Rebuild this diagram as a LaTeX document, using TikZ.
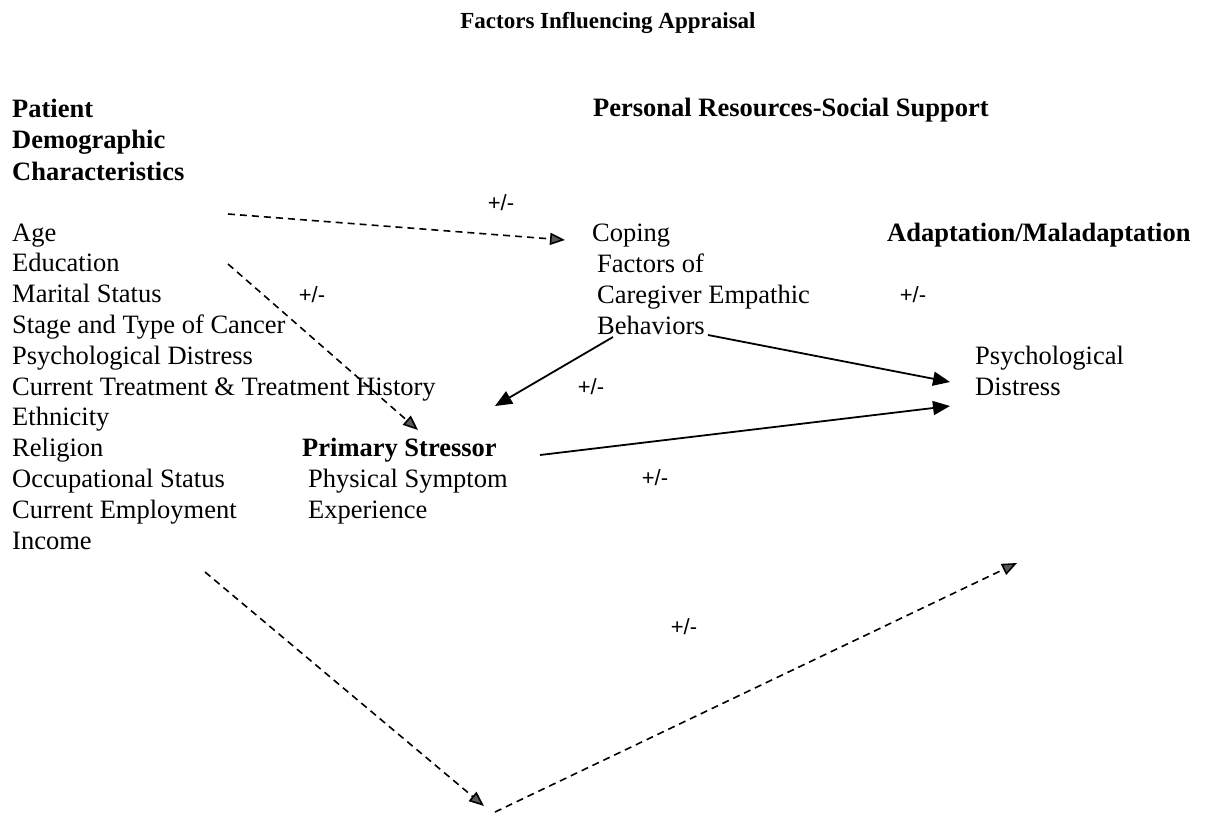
\documentclass[tikz,border=0pt]{standalone}
\usepackage{fontspec}
\setmainfont{Liberation Serif}
\newfontfamily\signfont{Liberation Sans}
\usetikzlibrary{arrows.meta}
\tikzset{
  txt/.style={inner sep=0pt, anchor=base west, align=left, font=\fontsize{26.5}{30.8}\selectfont},
  hd/.style={txt, font=\fontsize{26.5}{31.5}\selectfont\bfseries},
  ttl/.style={inner sep=0pt, anchor=base, font=\fontsize{23}{27}\selectfont\bfseries},
  sign/.style={inner sep=0pt, font=\signfont\fontsize{22}{26}\selectfont},
  link/.style={line width=1.8pt, -{Triangle[length=17pt,width=14pt]}},
  dlink/.style={line width=1.6pt, dash pattern=on 7pt off 5pt, -{Triangle[length=15pt,width=12pt,fill=gray!70!black]}}
}
\begin{document}
\begin{tikzpicture}[x=1pt,y=-1pt]
    \useasboundingbox (0,0) rectangle (1205,815);
    \node[ttl] (title) at (608,28) {Factors Influencing Appraisal};
    \node[hd] (demohead) at (12,180) {Patient\\Demographic\\Characteristics};
    \node[txt] (demolist) at (12,549) {Age\\Education\\Marital Status\\Stage and Type of Cancer\\Psychological Distress\\Current Treatment \& Treatment History\\Ethnicity\\Religion\\Occupational Status\\Current Employment\\Income};
    \node[hd] (reshead) at (593,116) {Personal Resources-Social Support};
    \node[txt] (coping) at (592,334) {Coping\\\hspace*{5pt}Factors of\\\hspace*{5pt}Caregiver Empathic\\\hspace*{5pt}Behaviors};
    \node[hd] (adapt) at (887,241) {Adaptation/Maladaptation};
    \node[txt] (distress) at (975,395) {Psychological\\Distress};
    \node[txt] (stressor) at (302,518) {\textbf{Primary Stressor}\\\hspace*{6pt}Physical Symptom\\\hspace*{6pt}Experience};
    \node[sign] (s1) at (501,203) {+/-};
    \node[sign] (s2) at (312,295) {+/-};
    \node[sign] (s3) at (913,295) {+/-};
    \node[sign] (s4) at (591,387) {+/-};
    \node[sign] (s5) at (655,478) {+/-};
    \node[sign] (s6) at (684,627) {+/-};
    \coordinate (a1) at (228,214);
    \coordinate (a2) at (565,240);
    \coordinate (b1) at (228,264);
    \coordinate (b2) at (418,430);
    \coordinate (c1) at (613,337);
    \coordinate (c2) at (495,406);
    \coordinate (d1) at (708,335);
    \coordinate (d2) at (950,382);
    \coordinate (e1) at (540,455);
    \coordinate (e2) at (950,406);
    \coordinate (f1) at (205,572);
    \coordinate (f2) at (484,806);
    \coordinate (g1) at (495,812);
    \coordinate (g2) at (1017,563);
    \draw[dlink] (a1) -- (a2);
    \draw[dlink] (b1) -- (b2);
    \draw[link] (c1) -- (c2);
    \draw[link] (d1) -- (d2);
    \draw[link] (e1) -- (e2);
    \draw[dlink] (f1) -- (f2);
    \draw[dlink] (g1) -- (g2);
\end{tikzpicture}
\end{document}
